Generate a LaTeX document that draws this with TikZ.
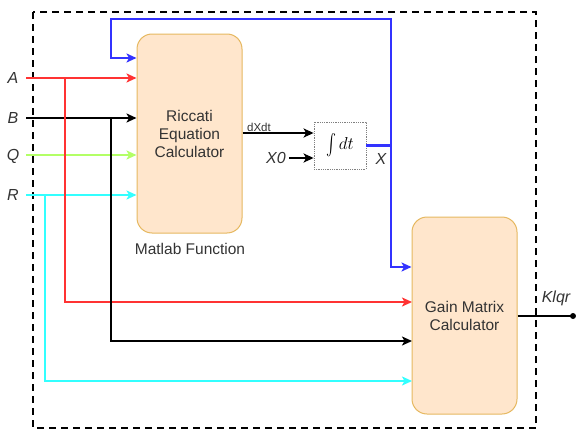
\documentclass[tikz,border=0pt]{standalone}
\usepackage{fontspec}
\setmainfont{Liberation Sans}
\usetikzlibrary{arrows.meta}
\definecolor{cred}{HTML}{FF3333}
\definecolor{cgreen}{HTML}{B3FF66}
\definecolor{ccyan}{HTML}{33FFFF}
\definecolor{cblue}{HTML}{3333FF}
\definecolor{bfill}{HTML}{FFE6CC}
\definecolor{bdraw}{HTML}{E6B860}
\tikzset{
  blockbox/.style={draw=bdraw, fill=bfill, rounded corners=15pt, line width=1pt, align=center, font=\fontsize{15.5}{18}\selectfont, inner sep=0pt, text=black!80},
  conn/.style={line width=2.6pt, -{Stealth[length=10pt,width=9pt,inset=2.5pt]}},
  plain/.style={line width=2.6pt},
  inlabel/.style={font=\fontsize{16}{18}\selectfont\itshape, anchor=center, text=black!80},
}
\begin{document}
\begin{tikzpicture}[x=1pt,y=-1pt]
\useasboundingbox (0,0) rectangle (576,431);
% outer dashed frame
\draw[line width=2.4pt, dash pattern=on 7pt off 5pt] (33,12) rectangle (536,428);
% blocks
\node[blockbox, minimum width=105pt, minimum height=199pt] (ric) at (189.5,133.5) {Riccati\\Equation\\Calculator};
\node[blockbox, minimum width=105pt, minimum height=197pt] (gain) at (464.5,315.5) {Gain Matrix\\Calculator};
\node[draw=gray, densely dotted, line width=0.8pt, minimum width=52pt, minimum height=47pt, inner sep=0pt, font=\fontsize{17}{20}\selectfont] (int) at (340,145.5) {\raisebox{-0.55ex}{\scalebox{1.5}[2.1]{$\int$}}\,$dt$};
\node[font=\fontsize{15.5}{18}\selectfont, text=black!80] (mf) at (190,249) {Matlab Function};
% input labels
\node[inlabel] (lA) at (13,78) {A};
\node[inlabel] (lB) at (13,118) {B};
\node[inlabel] (lQ) at (13,156) {Q};
\node[inlabel] (lR) at (13,195) {R};
\coordinate (sA) at (26,78);
\coordinate (sB) at (26,118);
\coordinate (sQ) at (26,155);
\coordinate (sR) at (26,195);
% inputs to Riccati
\draw[conn, cred] (sA) -- (sA -| ric.west);
\draw[conn, black] (sB) -- (sB -| ric.west);
\draw[conn, cgreen] (sQ) -- (sQ -| ric.west);
\draw[conn, ccyan] (sR) -- (sR -| ric.west);
% branches to Gain
\coordinate (gA) at (412,302);
\coordinate (gB) at (412,341);
\coordinate (gR) at (412,381);
\draw[conn, cred] (65,78) -- (65,302) -- (gA);
\draw[conn, black] (111,118) -- (111,341) -- (gB);
\draw[conn, ccyan] (45,195) -- (45,381) -- (gR);
% dXdt
\draw[conn, black] (ric.east |- 0,133) -- (int.west |- 0,133);
\node[font=\fontsize{11.5}{13}\selectfont, text=black!80] (ld) at (259,127) {dXdt};
\node[inlabel] (lX0) at (276,158) {X0};
\draw[conn, black] (lX0.east) -- (int.west |- lX0.east);
% X feedback
\coordinate (xj) at (391,145.5);
\draw[plain, cblue] (int.east) -- (xj);
\draw[conn, cblue] (xj) -- (391,19) -- (111,19) -- (111,58) -- (ric.west |- 0,58);
\draw[conn, cblue] (xj) -- (391,267) -- (gain.west |- 0,267);
\node[inlabel] (lX) at (381,159) {X};
% output
\coordinate (kout) at (573,316);
\draw[plain, black] (gain.east |- kout) -- (kout);
\fill (kout) circle (3pt);
\node[inlabel] (lK) at (556,298) {Klqr};
\end{tikzpicture}
\end{document}
